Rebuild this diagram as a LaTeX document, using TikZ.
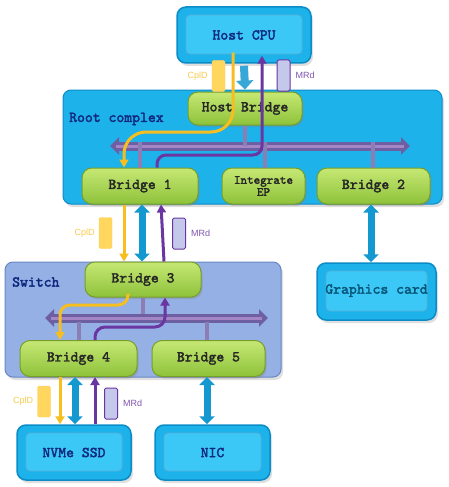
\documentclass[tikz,border=0pt]{standalone}
\usepackage{fontspec}
\setsansfont{Liberation Sans}
\newfontfamily\boxfont{lmmono10-regular}[Extension=.otf,FakeBold=2.2]
\usetikzlibrary{positioning,arrows.meta,shadows}
\definecolor{boxcyan}{HTML}{1EB2EA}
\definecolor{boxedge}{HTML}{0C8CC6}
\definecolor{boxin}{HTML}{3CC8F6}
\definecolor{swfill}{HTML}{94B0E4}
\definecolor{swedge}{HTML}{6886C4}
\definecolor{grtop}{HTML}{C6E874}
\definecolor{grbot}{HTML}{8EC23A}
\definecolor{gredge}{HTML}{789E2A}
\definecolor{navy}{HTML}{10287E}
\definecolor{busout}{HTML}{6E5EA2}
\definecolor{busin}{HTML}{A486C6}
\definecolor{cplcol}{HTML}{F6BE1E}
\definecolor{cplfill}{HTML}{FFD75E}
\definecolor{mrdcol}{HTML}{6A36A2}
\definecolor{mrdfill}{HTML}{C4C8EA}
\definecolor{linkcol}{HTML}{1498D0}
\begin{document}
\begin{tikzpicture}[x=1pt,y=-1pt,
    cbox/.style={draw=boxedge,line width=1.5pt,fill=boxcyan,rounded corners=9pt,
      drop shadow={shadow xshift=2pt,shadow yshift=-3pt,opacity=.25},
      path picture={\draw[fill=boxin,draw=boxedge!70,line width=.8pt,rounded corners=4pt]
        ([shift={(9pt,-8pt)}]path picture bounding box.north west) rectangle
        ([shift={(-9pt,9pt)}]path picture bounding box.south east);},
      font=\boxfont\fontsize{15}{15}\selectfont,text=navy},
    grp/.style={draw=swedge,line width=1pt,rounded corners=8pt,
      drop shadow={shadow xshift=2pt,shadow yshift=-3pt,opacity=.25}},
    bridge/.style={draw=gredge,line width=1pt,top color=grtop,bottom color=grbot,
      rounded corners=10pt,font=\boxfont\fontsize{15}{12}\selectfont,
      text=black!85,drop shadow={shadow xshift=1.5pt,shadow yshift=-2pt,opacity=.3}},
    grplbl/.style={font=\boxfont\fontsize{15}{15}\selectfont,text=navy,inner sep=0pt},
    bus/.style={line width=9pt,draw=busout,{Triangle[width=17pt,length=9pt]}-{Triangle[width=17pt,length=9pt]}},
    businner/.style={line width=3pt,draw=busin,shorten <=6pt,shorten >=6pt},
    stub/.style={line width=3.5pt,draw=busout!80},
    link/.style={line width=7pt,draw=linkcol,{Triangle[width=15pt,length=8pt]}-{Triangle[width=15pt,length=8pt]}},
    cpl/.style={line width=3pt,draw=cplcol,-{Triangle[width=9pt,length=8pt]}},
    mrd/.style={line width=3pt,draw=mrdcol,-{Triangle[width=9pt,length=8pt]}},
    cplpkt/.style={fill=cplfill,draw=cplfill!90!orange,rounded corners=1.5pt,minimum width=13pt,minimum height=31pt,inner sep=0pt},
    mrdpkt/.style={fill=mrdfill,draw=mrdcol,line width=1pt,rounded corners=1.5pt,minimum width=13pt,minimum height=31pt,inner sep=0pt},
    pktlbl/.style={font=\sffamily\fontsize{9}{10}\selectfont,inner sep=0pt}]
  \useasboundingbox (0,0) rectangle (449,487);
  % root complex and switch
  \node[grp,fill=boxcyan,draw=boxedge,minimum width=379pt,minimum height=114pt] (rc) at (252.5,147) {};
  \node[grplbl,anchor=west] (rclbl) at (69,119) {Root complex};
  \node[grp,fill=swfill,minimum width=276pt,minimum height=115pt] (sw) at (143,319.5) {};
  \node[grplbl,anchor=west] (swlbl) at (12,282) {Switch};
  % end points
  \node[cbox,minimum width=134pt,minimum height=56pt] (cpu) at (244,35) {Host CPU};
  \node[cbox,minimum width=119pt,minimum height=57pt,text=boxedge!60!black] (gpu) at (376.5,291.5) {\raisebox{5pt}{Graphics card}};
  \node[cbox,minimum width=114pt,minimum height=55pt] (nvme) at (74,452.5) {NVMe SSD};
  \node[cbox,minimum width=115pt,minimum height=55pt] (nic) at (212.5,452.5) {NIC};
  % buses
  \coordinate (rcL) at (110,146);
  \coordinate (rcR) at (410,146);
  \coordinate (swL) at (45,318);
  \coordinate (swR) at (268,318);
  \draw[bus] (rcL) -- (rcR);
  \draw[businner] (rcL) -- (rcR);
  \draw[bus] (swL) -- (swR);
  \draw[businner] (swL) -- (swR);
  % bridges
  \node[bridge,minimum width=114pt,minimum height=33pt] (hb) at (245,108.5) {Host Bridge};
  \node[bridge,minimum width=116pt,minimum height=36pt] (b1) at (140,186) {Bridge 1};
  \node[bridge,minimum width=83pt,minimum height=36pt,align=center,
    font=\boxfont\fontsize{12.5}{12}\selectfont] (ep) at (263.5,186) {Integrate\\EP};
  \node[bridge,minimum width=113pt,minimum height=36pt] (b2) at (373.5,186) {Bridge 2};
  \node[bridge,minimum width=116pt,minimum height=35pt] (b3) at (143,279.5) {Bridge 3};
  \node[bridge,minimum width=117pt,minimum height=36pt] (b4) at (78.5,358.5) {Bridge 4};
  \node[bridge,minimum width=113pt,minimum height=36pt] (b5) at (208.5,358.5) {Bridge 5};
  % stubs to the buses
  \draw[stub] (hb.south) -- (hb.south |- rcL);
  \foreach \b/\s in {b1/0pt,ep/1.5pt,b2/-0.5pt}
    \draw[stub] ([xshift=\s,yshift=4pt]\b.north |- rcL) -- ([xshift=\s]\b.north);
  \draw[stub] (b3.south) -- ([yshift=4pt]b3.south |- swL);
  \foreach \b/\s in {b4/0.5pt,b5/-1.5pt}
    \draw[stub] ([xshift=\s,yshift=-4pt]\b.north |- swL) -- ([xshift=\s]\b.north);
  % links
  \draw[line width=8pt,draw=linkcol!85,-{Triangle[width=17pt,length=9pt]}] ([yshift=-2pt]cpu.south) -- ([yshift=2pt]hb.north);
  \draw[link] ([xshift=2pt]b1.south) -- ([xshift=-1pt]b3.north);
  \draw[link] ([xshift=-2.5pt]b2.south) -- ([xshift=-5.5pt]gpu.north);
  \draw[link] ([xshift=-3.5pt]b4.south) -- ([xshift=1pt]nvme.north);
  \draw[link] ([xshift=-1.5pt]b5.south) -- ([xshift=-5.5pt]nic.north);
  % completion path (yellow)
  \draw[cpl,rounded corners=22pt] ([xshift=-11pt,yshift=11pt]cpu.south) |- (124,132) -- ([xshift=-16pt]b1.north);
  \draw[cpl] ([xshift=-16pt]b1.south) -- ([xshift=-19pt]b3.north);
  \draw[cpl,rounded corners=10pt] ([xshift=-15pt,yshift=4pt]b3.south) |- (60,305) -- ([xshift=-18.5pt]b4.north);
  \draw[cpl] ([xshift=-18.5pt]b4.south) -- ([xshift=-14pt]nvme.north);
  % memory read path (purple)
  \draw[mrd,rounded corners=9pt] ([xshift=17pt]b1.north) |- (262,155) -- ([xshift=18pt,yshift=8pt]cpu.south);
  \draw[mrd] ([xshift=21pt]b3.north) -- ([xshift=21pt]b1.south);
  \draw[mrd,rounded corners=10pt] ([xshift=16.5pt]b4.north) |- (165,327) -- ([xshift=22pt]b3.south);
  \draw[mrd] ([xshift=21pt]nvme.north) -- ([xshift=16.5pt]b4.south);
  % packets
  \node[cplpkt] (cplA) at (218.5,76) {};
  \node[cplpkt] (cplB) at (105.5,233) {};
  \node[cplpkt] (cplC) at (44,401.5) {};
  \node[mrdpkt] (mrdA) at (283.5,75.5) {};
  \node[mrdpkt] (mrdB) at (179,233.5) {};
  \node[mrdpkt] (mrdC) at (111,403.5) {};
  \foreach \p in {cplA,cplB,cplC}
    \node[pktlbl,text=cplcol!80,left=4pt of \p] {CplD};
  \foreach \p in {mrdA,mrdB,mrdC}
    \node[pktlbl,text=mrdcol!85,right=5pt of \p] {MRd};
\end{tikzpicture}
\end{document}
